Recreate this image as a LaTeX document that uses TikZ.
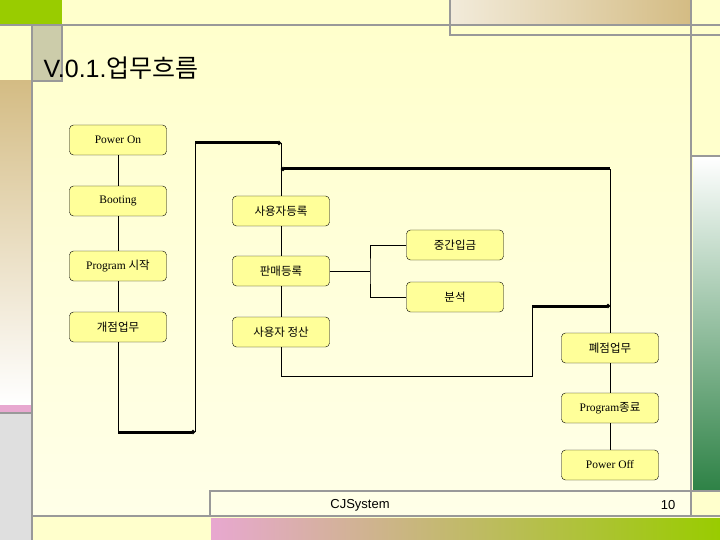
\documentclass[tikz,border=0pt]{standalone}
\usetikzlibrary{arrows.meta}
\usepackage{fontspec}
\setmainfont{Liberation Serif}
\newfontfamily\kr{Noto Sans CJK KR}
\newfontfamily\arl{Liberation Sans}
\definecolor{bg}{RGB}{255,255,204}
\definecolor{main}{RGB}{255,255,232}
\definecolor{boxy}{RGB}{255,255,153}
\definecolor{lime}{RGB}{153,204,0}
\definecolor{tan}{RGB}{212,188,132}
\definecolor{pinkk}{RGB}{232,168,208}
\definecolor{dgreen}{RGB}{46,130,70}
\definecolor{sq}{RGB}{204,204,170}
\begin{document}
\begin{tikzpicture}[x=1pt,y=-1pt,
  box/.style={draw=black,fill=boxy,rounded corners=4pt,minimum width=97pt,minimum height=30pt,inner sep=0pt,font=\fontsize{11.5}{12}\selectfont},
  thinline/.style={draw=black,line width=0.9pt},
  boldline/.style={draw=black,line width=3pt},
  dot/.style={-{Circle[length=4pt]}},
  deco/.style={draw=gray!80,line width=2pt}]
\useasboundingbox (0,0) rectangle (720,540);
% background
\fill[bg] (0,0) rectangle (720,540);
\shade[top color=bg,bottom color=main] (33,26) rectangle (690,515);
\fill[lime] (0,0) rectangle (62,24);
\fill[sq] (32,26) rectangle (62,80);
\shade[top color=tan,bottom color=white] (0,81) rectangle (31,405);
\fill[pinkk] (0,405) rectangle (31,413);
\fill[gray!25] (0,414) rectangle (31,540);
\shade[left color=tan!30!white,right color=tan] (451,0) rectangle (690,24);
\shade[top color=white,bottom color=dgreen] (693,157) rectangle (720,490);
\shade[left color=pinkk,right color=lime] (211,518) rectangle (720,540);
\draw[deco] (0,25) -- (720,25);
\draw[deco] (32,26) -- (32,540);
\draw[deco] (32,81) -- (62,81) -- (62,26);
\draw[deco] (450,0) -- (450,35) -- (720,35);
\draw[deco] (691,0) -- (691,516);
\draw[deco] (691,156) -- (720,156);
\draw[deco] (0,413) -- (31,413);
\draw[deco] (32,516) -- (720,516);
\draw[deco] (210,491) rectangle (691,516);
\draw[deco] (691,491) -- (720,491);
% title
\node[anchor=west,font=\fontsize{25}{28}\selectfont] (title) at (40,68) {\arl V.0.1.\kr 업무흐름};
\node[font=\arl\fontsize{13}{14}\selectfont] (foot) at (360,505) {CJSystem};
\node[font=\arl\fontsize{13}{14}\selectfont] (pg) at (668,505) {10};
% nodes
\node[box] (on) at (118,140) {Power On};
\node[box] (boot) at (118,201) {Booting};
\node[box] (ps) at (118,266) {Program {\kr 시작}};
\node[box] (open) at (118,327) {\kr 개점업무};
\node[box] (reg) at (281,211) {\kr 사용자등록};
\node[box] (sale) at (281,271) {\kr 판매등록};
\node[box] (calc) at (281,332) {\kr 사용자 정산};
\node[box] (mid) at (455,245) {\kr 중간입금};
\node[box] (ana) at (455,297) {\kr 분석};
\node[box] (close) at (610,348) {\kr 폐점업무};
\node[box] (pe) at (610,408) {Program{\kr 종료}};
\node[box] (off) at (610,465) {Power Off};
\coordinate (a1) at (118,432);
\coordinate (a2) at (195,432);
\coordinate (a3) at (195,143);
\coordinate (a4) at (281,143);
\coordinate (b1) at (610,169);
\coordinate (b2) at (281,169);
\coordinate (c1) at (281,376);
\coordinate (c2) at (532,376);
\coordinate (c3) at (532,306);
\coordinate (c4) at (610,306);
\coordinate (s1) at (370,271);
% connectors
\draw[thinline] (on) -- (boot); \draw[thinline] (boot) -- (ps); \draw[thinline] (ps) -- (open);
\draw[thinline] (open) -- (a1);
\draw[thinline] (a2) -- (a3);
\draw[thinline] (a4) -- (reg);
\draw[thinline] (reg) -- (sale); \draw[thinline] (sale) -- (calc);
\draw[thinline] (calc) -- (c1) -- (c2) -- (c3);
\draw[thinline] (b1) -- (close);
\draw[thinline] (close) -- (pe); \draw[thinline] (pe) -- (off);
\draw[thinline] (sale) -- (s1);
\draw[thinline] (mid.west) -| (s1) |- (ana.west);
\draw[boldline,dot] (a1) -- (a2);
\draw[boldline,dot] (a3) -- (a4);
\draw[boldline,dot] (c3) -- (c4);
\draw[boldline,dot] (b1) -- (b2);
\end{tikzpicture}
\end{document}
